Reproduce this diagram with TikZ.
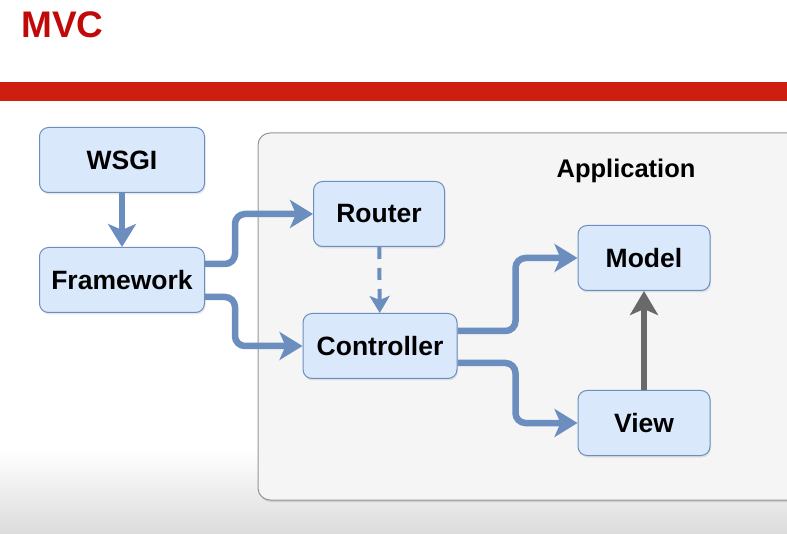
\documentclass[tikz,border=0pt]{standalone}
\usepackage{fontspec}
\setmainfont{Liberation Sans}
\usepackage{tikz}
\usetikzlibrary{positioning,arrows.meta,shadows}

\definecolor{mvcred}{RGB}{192,10,10}
\definecolor{barred}{RGB}{205,30,16}
\definecolor{boxfill}{RGB}{218,232,252}
\definecolor{boxline}{RGB}{108,142,191}
\definecolor{appfill}{RGB}{245,245,245}
\definecolor{appline}{RGB}{150,150,150}
\definecolor{greyarrow}{RGB}{105,105,105}

\tikzset{
  block/.style={draw=boxline, fill=boxfill, rounded corners=9pt, line width=1pt,
    minimum height=65pt, inner sep=0pt,
    font=\fontsize{26.5}{30}\selectfont\bfseries,
    drop shadow={opacity=0.18, shadow xshift=1pt, shadow yshift=-2pt}},
  flow/.style={draw=boxline, line width=6.5pt, rounded corners=10pt,
    -{Stealth[length=23pt,width=28pt,inset=6pt]}},
  dashflow/.style={draw=boxline, line width=4pt, dash pattern=on 12pt off 9pt,
    -{Stealth[length=17pt,width=20pt,inset=4pt]}},
  uses/.style={draw=greyarrow, line width=6.5pt,
    -{Stealth[length=24pt,width=28pt,inset=6pt]}}
}

\begin{document}
\begin{tikzpicture}[x=1pt,y=-1pt]

	\useasboundingbox (0,0) rectangle (787,534);
	\clip (0,0) rectangle (787,534);

	% header
	\shade[top color=white, bottom color=black!14] (0,450) rectangle (787,534);
	\node[anchor=base west, inner sep=0pt, text=mvcred,
	      font=\fontsize{37}{40}\selectfont\bfseries] (title) at (21,38) {MVC};
	\fill[barred] (0,82) rectangle (787,101);

	% application container
	\draw[draw=appline, fill=appfill, line width=1pt, rounded corners=12pt,
	      drop shadow={opacity=0.25, shadow xshift=1pt, shadow yshift=-2pt}]
	      (258,133) rectangle (830,500);
	\node[anchor=base, inner sep=0pt, font=\fontsize{25.5}{30}\selectfont\bfseries]
	      (applabel) at (626,178) {Application};

	% boxes
	\node[block, minimum width=165pt] (wsgi)       at (122,160) {WSGI};
	\node[block, minimum width=165pt] (framework)  at (122,280) {Framework};
	\node[block, minimum width=131pt] (router)     at (379,214) {Router};
	\node[block, minimum width=154pt] (controller) at (380,346) {Controller};
	\node[block, minimum width=132pt] (model)      at (644,258) {Model};
	\node[block, minimum width=132pt] (view)       at (644,423) {View};

	% connectors
	\draw[flow] (wsgi) -- (framework);
	\draw[flow] ([yshift=16pt]framework.east) -- ++(30,0) |- (router);
	\draw[flow] ([yshift=-17pt]framework.east) -- ++(30,0) |- (controller);
	\draw[dashflow] (router) -- (controller);
	\draw[flow] ([yshift=15pt]controller.east) -- ++(58,0) |- (model);
	\draw[flow] ([yshift=-17pt]controller.east) -- ++(58,0) |- (view);
	\draw[uses] (view) -- (model);

\end{tikzpicture}
\end{document}
